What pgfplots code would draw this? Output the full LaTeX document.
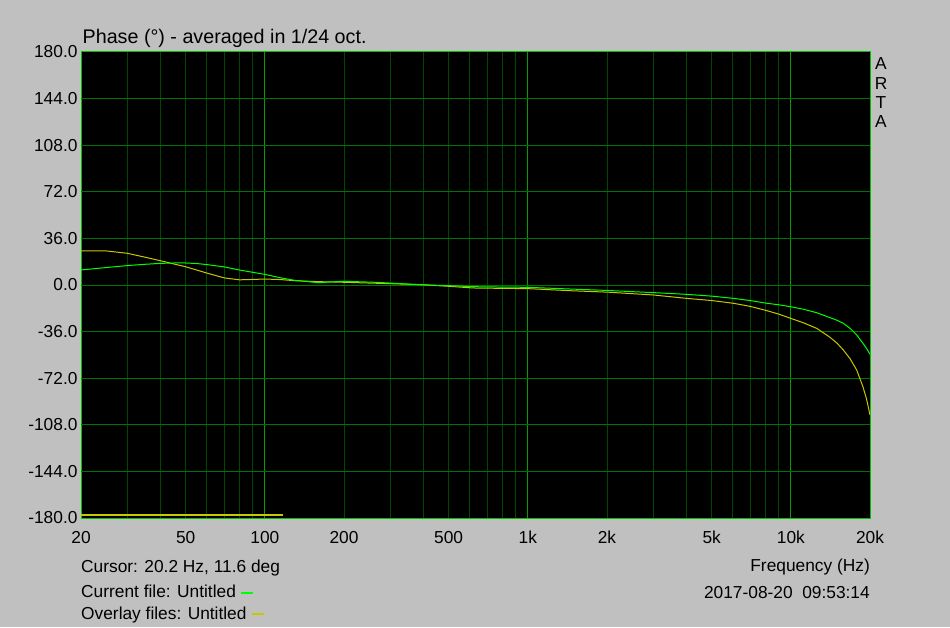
\documentclass[border=0pt]{standalone}
\usepackage{pgfplots}
\pgfplotsset{compat=1.18}
\usepackage{fontspec}
\setmainfont{Liberation Sans}
\definecolor{bg}{HTML}{C0C0C0}
\definecolor{minorg}{HTML}{004A00}
\definecolor{majorg}{HTML}{00A000}
\definecolor{horg}{HTML}{007400}
\definecolor{frameg}{HTML}{00C000}
\definecolor{curg}{HTML}{00FF00}
\definecolor{ovly}{HTML}{C8C800}
\newcommand{\fs}{\fontsize{17.33}{20}\selectfont}
\newcommand{\fst}{\fontsize{19.7}{22}\selectfont}
\begin{document}
\begin{tikzpicture}[x=1pt,y=1pt]
\useasboundingbox (0,0) rectangle (950,627);
\fill[bg] (0,0) rectangle (950,627);
\begin{axis}[
  at={(81pt,109pt)}, anchor=south west,
  scale only axis, width=789pt, height=466pt,
  xmode=log, xmin=20, xmax=20000, ymin=-180, ymax=180,
  axis background/.style={fill=black},
  axis line style={draw=frameg, line width=1pt},
  major tick length=0pt, minor tick length=0pt,
  xtick={20,50,100,200,500,1000,2000,5000,10000,20000},
  xticklabels={20,50,100,200,500,1k,2k,5k,10k,20k},
  ytick={-180,-144,-108,-72,-36,0,36,72,108,144,180},
  yticklabels={-180.0,-144.0,-108.0,-72.0,-36.0,0.0,36.0,72.0,108.0,144.0,180.0},
  xmajorgrids=false, ymajorgrids=false, xminorgrids=false,
  ticklabel style={font=\fs, text=black},
  xticklabel style={yshift=-9.5pt},
  clip=true,
]
\pgfplotsinvokeforeach{30,40,50,60,70,80,90,200,300,400,500,600,700,800,900,2000,3000,4000,5000,6000,7000,8000,9000}{
  \draw[minorg, line width=1pt] (axis cs:#1,-180) -- (axis cs:#1,180);
}
\pgfplotsinvokeforeach{100,1000,10000}{
  \draw[majorg, line width=1pt] (axis cs:#1,-180) -- (axis cs:#1,180);
}
\pgfplotsinvokeforeach{-144,-108,-72,-36,0,36,72,108,144}{
  \draw[horg, line width=1pt] (axis cs:20,#1) -- (axis cs:20000,#1);
}
\addplot[ovly, line width=2.5pt] coordinates {(20,-177.5) (117,-177.5)};
\addplot[ovly, line width=1pt] coordinates {
(20,26.3) (25,26.3) (30,24.5) (35,21.5) (40,18.8) (45,16.3) (50,14.1) (55,11.6) (60,9.3) (70,5.5) (80,4.0) (90,4.3) (100,4.6) (115,4.2) (130,3.3) (160,2.6) (200,2.1) (270,1.3) (390,0.3) (500,-1.0) (620,-2.3) (800,-2.6) (1000,-2.8) (1445,-4.4) (2000,-5.5) (3000,-7.7) (4000,-10.3) (5000,-12.0) (6040,-14.1) (7000,-16.5) (8100,-19.8) (9000,-22.5) (10000,-25.8) (11200,-29.3) (12540,-33.5) (14000,-40.0) (15000,-45.0) (15830,-50.2) (16800,-57.0) (17800,-65.7) (18800,-78.6) (19400,-88) (20000,-100.4)};
\addplot[curg, line width=1pt] coordinates {
(20,11.6) (25,13.5) (30,15.0) (35,16.0) (40,16.7) (45,17.0) (50,17.0) (55,16.6) (60,15.8) (70,14.0) (80,11.6) (90,9.8) (100,8.2) (115,5.5) (130,3.6) (160,1.8) (200,2.9) (270,2.0) (390,0.2) (500,-0.5) (620,-1.3) (800,-1.6) (1000,-1.8) (1445,-3.1) (2000,-4.2) (3000,-5.9) (4000,-7.2) (5000,-8.6) (6040,-10.3) (7000,-12.0) (8100,-14.1) (9000,-15.3) (10000,-16.8) (11200,-18.8) (12540,-21.4) (14000,-25.0) (15000,-27.3) (15830,-29.6) (16800,-33.5) (17800,-38.6) (18800,-45.0) (19400,-49.0) (20000,-53.5)};
\end{axis}
\node[anchor=base west, inner sep=0pt, font=\fst] at (82.5,583) {Phase (°) - averaged in 1/24 oct.};
\node[anchor=base west, inner sep=0pt, font=\fs] at (81,54.3) {Cursor: 20.2 Hz, 11.6 deg};
\node[anchor=base west, inner sep=0pt, font=\fs] at (81,29.7) {Current file: Untitled};
\node[anchor=base west, inner sep=0pt, font=\fs] at (81,8) {Overlay files: Untitled};
\draw[curg, line width=2pt] (241,34.3) -- (253,34.3);
\draw[ovly, line width=2pt] (251.5,13.3) -- (263.5,13.3);
\node[anchor=base east, inner sep=0pt, font=\fs] at (870,55.3) {Frequency (Hz)};
\node[anchor=base east, inner sep=0pt, font=\fs] at (870,28.7) {2017-08-20\ \ 09:53:14};
\node[anchor=base, inner sep=0pt, font=\fs] at (881,557) {A};
\node[anchor=base, inner sep=0pt, font=\fs] at (881,537.7) {R};
\node[anchor=base, inner sep=0pt, font=\fs] at (881,518.5) {T};
\node[anchor=base, inner sep=0pt, font=\fs] at (881,499.3) {A};
\end{tikzpicture}
\end{document}
